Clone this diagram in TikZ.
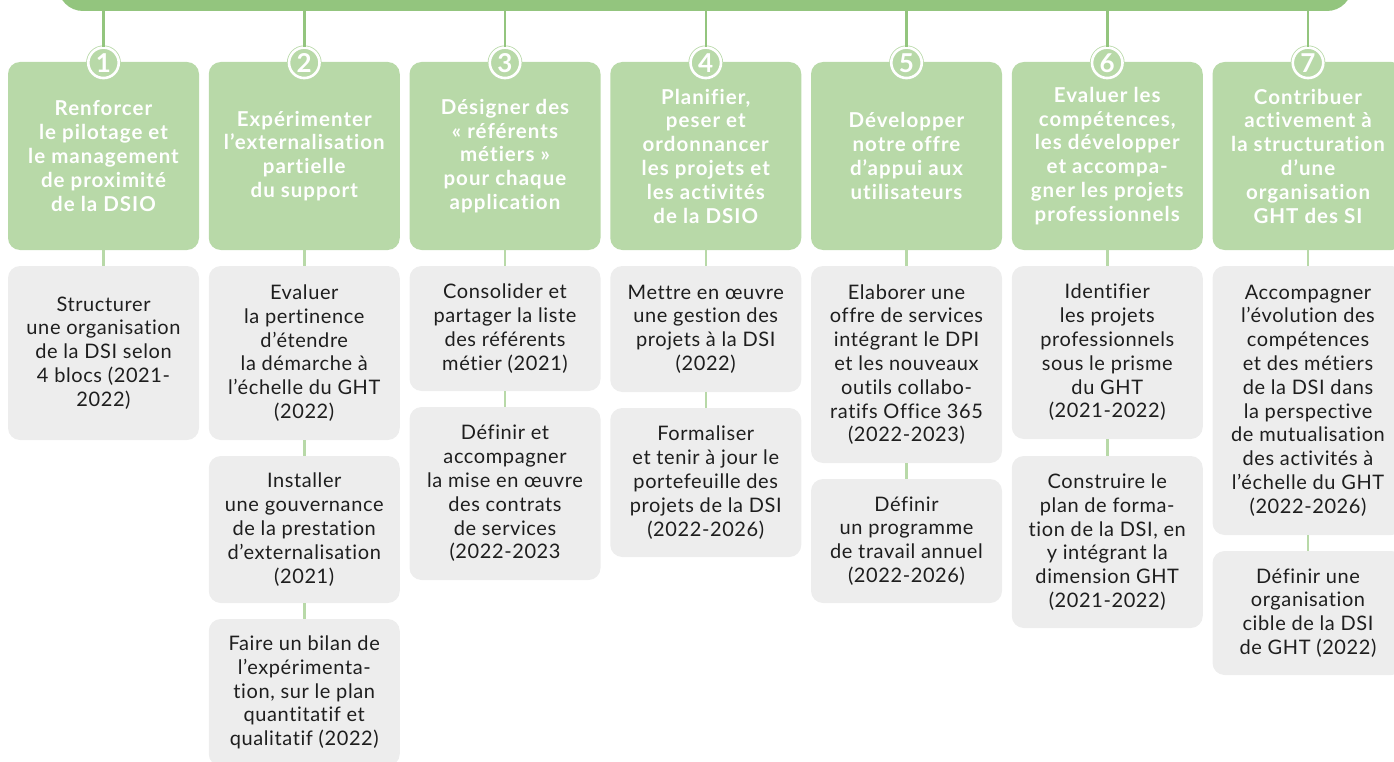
\documentclass[tikz,border=0pt]{standalone}
\usepackage{fontspec}
\setmainfont{Lato}[Ligatures=NoCommon]
\newfontfamily\hfam{Lato}[LetterSpace=5, Ligatures=NoCommon]
\newfontfamily\gfam{Lato}[LetterSpace=3, Ligatures=NoCommon]
\definecolor{barG}{HTML}{93C57E}
\definecolor{boxG}{HTML}{B8D9A8}
\definecolor{grayB}{HTML}{EDEDED}
\definecolor{txt}{HTML}{1E1E1E}
\newcommand\hfont{\hfam\bfseries\fontsize{20.5}{23.8}\selectfont}
\newcommand\gfont{\gfam\fontsize{20}{23.8}\selectfont}
\newcommand\nfont{\bfseries\fontsize{26}{26}\selectfont}
\begin{document}
\begin{tikzpicture}[x=1pt,y=-1pt,
 bar/.style={fill=barG, rounded corners=25pt, minimum width=1294pt, minimum height=60pt, inner sep=0pt},
 head/.style={fill=boxG, rounded corners=12pt, minimum width=191pt, minimum height=188pt, text=white, align=center, inner sep=0pt, font=\hfont},
 gbox/.style={fill=grayB, rounded corners=12pt, minimum width=191pt, text=txt, align=center, inner sep=0pt, font=\gfont},
 num/.style={circle, draw=boxG, line width=0.8pt, double=white, double distance=2.6pt, fill=boxG, minimum size=30.5pt, inner sep=0pt, text=white, font=\nfont},
 link/.style={draw=boxG, line width=2.5pt},
 toplink/.style={draw=barG, line width=2.5pt}
]
\useasboundingbox (0,0) rectangle (1394,762);
\clip (0,0) rectangle (1394,762);
\node[bar] (bar) at (705,-19) {};
% header boxes
\node[head] (h1) at (103.5,156) {Renforcer\\le pilotage et\\le management\\de proximité\\de la DSIO};
\node[head] (h2) at (304.25,156) {Expérimenter\\l’externalisation\\partielle\\du support};
\node[head] (h3) at (505,156) {Désigner des\\« référents\\métiers »\\pour chaque\\application};
\node[head] (h4) at (705.75,156) {Planifier,\\peser et\\ordonnancer\\les projets et\\les activités\\de la DSIO};
\node[head] (h5) at (906.5,156) {Développer\\notre offre\\d’appui aux\\utilisateurs};
\node[head] (h6) at (1107.25,156) {Evaluer les\\compétences,\\les développer\\et accompa-\\gner les projets\\professionnels};
\node[head] (h7) at (1308,156) {Contribuer\\activement à\\la structuration\\d’une\\organisation\\GHT des SI};
% gray boxes
\node[gbox, minimum height=174pt] (g1a) at (103.5,353) {Structurer\\une organisation\\de la DSI selon\\4 blocs (2021-\\2022)};
\node[gbox, minimum height=174pt] (g2a) at (304.25,353) {Evaluer\\la pertinence\\d’étendre\\la démarche à\\l’échelle du GHT\\(2022)};
\node[gbox, minimum height=147pt] (g2b) at (304.25,529.5) {Installer\\une gouvernance\\de la prestation\\d’externalisation\\(2021)};
\node[gbox, minimum height=147pt] (g2c) at (304.25,692.5) {Faire un bilan de\\l’expérimenta-\\tion, sur le plan\\quantitatif et\\qualitatif (2022)};
\node[gbox, minimum height=125pt] (g3a) at (505,328.5) {Consolider et\\partager la liste\\des référents\\métier (2021)};
\node[gbox, minimum height=173pt] (g3b) at (505,493.5) {Définir et\\accompagner\\la mise en œuvre\\des contrats\\de services\\(2022-2023};
\node[gbox, minimum height=126pt] (g4a) at (705.75,329) {Mettre en œuvre\\une gestion des\\projets à la DSI\\(2022)};
\node[gbox, minimum height=149pt] (g4b) at (705.75,482.5) {Formaliser\\et tenir à jour le\\portefeuille des\\projets de la DSI\\(2022-2026)};
\node[gbox, minimum height=197pt] (g5a) at (906.5,364.5) {Elaborer une\\offre de services\\intégrant le DPI\\et les nouveaux\\outils collabo-\\ratifs Office 365\\(2022-2023)};
\node[gbox, minimum height=124pt] (g5b) at (906.5,541) {Définir\\un programme\\de travail annuel\\(2022-2026)};
\node[gbox, minimum height=173pt] (g6a) at (1107.25,352.5) {Identifier\\les projets\\professionnels\\sous le prisme\\du GHT\\(2021-2022)};
\node[gbox, minimum height=172pt] (g6b) at (1107.25,542) {Construire le\\plan de forma-\\tion de la DSI, en\\y intégrant la\\dimension GHT\\(2021-2022)};
\node[gbox, minimum height=269pt] (g7a) at (1308,400.5) {Accompagner\\l’évolution des\\compétences\\et des métiers\\de la DSI dans\\la perspective\\de mutualisation\\des activités à\\l’échelle du GHT\\(2022-2026)};
\node[gbox, minimum height=124pt] (g7b) at (1308,613) {Définir une\\organisation\\cible de la DSI\\de GHT (2022)};
% connectors
\foreach \h/\g in {h1/g1a,h2/g2a,g2a/g2b,g2b/g2c,h3/g3a,g3a/g3b,h4/g4a,g4a/g4b,h5/g5a,g5a/g5b,h6/g6a,g6a/g6b,h7/g7a,g7a/g7b}
  \draw[link] (\h.south) -- (\g.north);
% number circles
\foreach \i in {1,...,7} {
  \node[num] (n\i) at ([yshift=-1pt]h\i.north) {\i};
  \draw[toplink] (bar.south -| n\i) -- (n\i.north);
}
\end{tikzpicture}
\end{document}
